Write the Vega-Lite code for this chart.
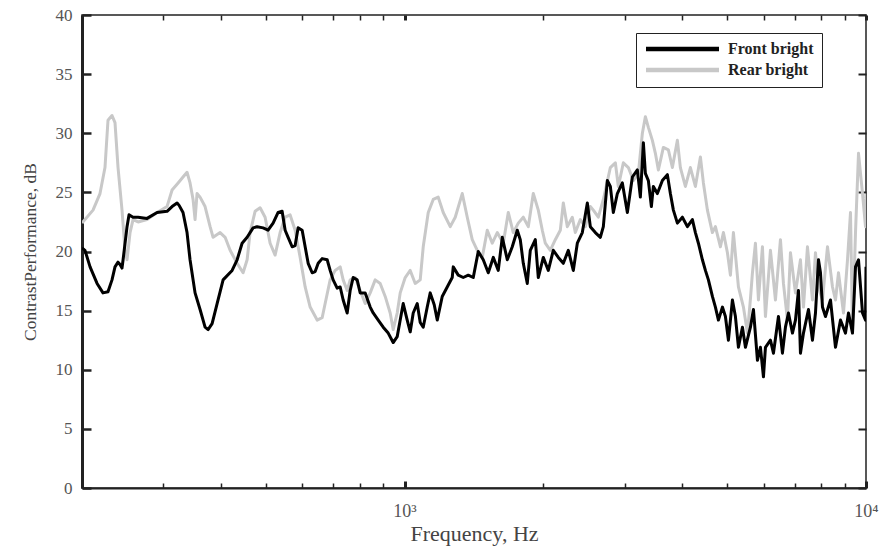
{
  "$schema": "https://vega.github.io/schema/vega-lite/v6.json",
  "width": 784,
  "height": 473,
  "autosize": {"type": "none"},
  "padding": {"left": 82, "top": 15, "right": 26, "bottom": 60},
  "config": {
    "font": "Liberation Serif",
    "view": {"stroke": "#222", "strokeWidth": 1.5}
  },
  "datasets": {
    "rear": [
      {"f": 200, "db": 22.4}, {"f": 211.3, "db": 23.5}, {"f": 218.8, "db": 24.9}, {"f": 224.3, "db": 27.1},
      {"f": 227.7, "db": 31.1}, {"f": 232.3, "db": 31.5}, {"f": 235.8, "db": 30.9}, {"f": 239.4, "db": 27.1},
      {"f": 244.2, "db": 23.5}, {"f": 247.9, "db": 20.1}, {"f": 250.4, "db": 19.3}, {"f": 254.2, "db": 21.6},
      {"f": 258.0, "db": 22.7}, {"f": 264.6, "db": 22.5}, {"f": 276.7, "db": 22.7}, {"f": 290.9, "db": 23.3},
      {"f": 305.7, "db": 23.8}, {"f": 313.5, "db": 25.2}, {"f": 323.1, "db": 25.8}, {"f": 331.1, "db": 26.3},
      {"f": 337.8, "db": 26.7}, {"f": 342.9, "db": 25.8}, {"f": 348.1, "db": 24.4}, {"f": 351.6, "db": 22.7},
      {"f": 355.1, "db": 24.9}, {"f": 360.5, "db": 24.6}, {"f": 369.6, "db": 23.8}, {"f": 379.0, "db": 22.1},
      {"f": 384.7, "db": 21.2}, {"f": 398.4, "db": 21.6}, {"f": 408.5, "db": 21.2}, {"f": 418.8, "db": 20.1},
      {"f": 433.7, "db": 19.0}, {"f": 446.8, "db": 18.2}, {"f": 455.9, "db": 19.3}, {"f": 462.7, "db": 21.6},
      {"f": 474.4, "db": 23.4}, {"f": 486.4, "db": 23.7}, {"f": 498.7, "db": 22.9}, {"f": 511.3, "db": 20.7},
      {"f": 524.2, "db": 19.7}, {"f": 537.5, "db": 21.6}, {"f": 551.1, "db": 22.9}, {"f": 565.0, "db": 23.1},
      {"f": 579.3, "db": 21.8}, {"f": 594.0, "db": 19.5}, {"f": 609.0, "db": 17.0}, {"f": 624.4, "db": 15.3},
      {"f": 646.6, "db": 14.2}, {"f": 662.9, "db": 14.4}, {"f": 672.9, "db": 15.6}, {"f": 689.9, "db": 17.6},
      {"f": 707.3, "db": 18.4}, {"f": 725.3, "db": 18.7}, {"f": 736.2, "db": 17.6}, {"f": 751.1, "db": 16.7},
      {"f": 762.4, "db": 17.6}, {"f": 781.7, "db": 17.8}, {"f": 801.4, "db": 16.7}, {"f": 821.7, "db": 15.6},
      {"f": 842.5, "db": 16.5}, {"f": 863.8, "db": 17.6}, {"f": 885.6, "db": 17.3}, {"f": 908.0, "db": 16.2},
      {"f": 930.9, "db": 14.8}, {"f": 944.9, "db": 13.4}, {"f": 964.0, "db": 14.8}, {"f": 978.6, "db": 16.5},
      {"f": 1003.3, "db": 17.8}, {"f": 1028.7, "db": 18.4}, {"f": 1054.7, "db": 17.3}, {"f": 1081.4, "db": 17.6},
      {"f": 1097.7, "db": 20.4}, {"f": 1125.5, "db": 23.3}, {"f": 1153.9, "db": 24.4}, {"f": 1183.0, "db": 24.6},
      {"f": 1212.9, "db": 23.3}, {"f": 1256.1, "db": 22.1}, {"f": 1287.9, "db": 22.9}, {"f": 1333.7, "db": 24.9},
      {"f": 1367.4, "db": 22.9}, {"f": 1401.9, "db": 21.0}, {"f": 1437.4, "db": 20.1}, {"f": 1473.7, "db": 19.5},
      {"f": 1511.0, "db": 21.8}, {"f": 1549.2, "db": 20.7}, {"f": 1588.4, "db": 21.6}, {"f": 1636.6, "db": 20.7},
      {"f": 1678.0, "db": 23.3}, {"f": 1720.4, "db": 21.6}, {"f": 1763.9, "db": 22.4}, {"f": 1808.5, "db": 22.9},
      {"f": 1854.2, "db": 22.1}, {"f": 1901.1, "db": 24.9}, {"f": 1949.2, "db": 23.5}, {"f": 1988.5, "db": 21.8},
      {"f": 2018.5, "db": 20.7}, {"f": 2069.5, "db": 20.1}, {"f": 2121.8, "db": 21.0}, {"f": 2175.5, "db": 21.8},
      {"f": 2208.4, "db": 24.1}, {"f": 2252.9, "db": 22.1}, {"f": 2309.8, "db": 22.9}, {"f": 2344.6, "db": 21.6},
      {"f": 2403.9, "db": 22.7}, {"f": 2464.7, "db": 22.1}, {"f": 2527.0, "db": 23.8}, {"f": 2565.2, "db": 23.5},
      {"f": 2630.0, "db": 22.9}, {"f": 2696.5, "db": 24.4}, {"f": 2792.4, "db": 27.1}, {"f": 2863.0, "db": 27.5},
      {"f": 2906.2, "db": 25.5}, {"f": 2979.6, "db": 27.5}, {"f": 3055.0, "db": 27.1}, {"f": 3132.2, "db": 26.0},
      {"f": 3211.4, "db": 26.6}, {"f": 3276.2, "db": 30.0}, {"f": 3325.6, "db": 31.4}, {"f": 3375.8, "db": 30.5},
      {"f": 3443.9, "db": 29.4}, {"f": 3495.9, "db": 28.3}, {"f": 3548.7, "db": 26.9}, {"f": 3638.3, "db": 28.8},
      {"f": 3730.3, "db": 28.6}, {"f": 3805.5, "db": 27.1}, {"f": 3901.8, "db": 29.4}, {"f": 3960.6, "db": 27.1},
      {"f": 4060.8, "db": 25.5}, {"f": 4163.4, "db": 27.1}, {"f": 4268.7, "db": 25.5}, {"f": 4376.6, "db": 28.0},
      {"f": 4442.7, "db": 25.8}, {"f": 4532.4, "db": 23.5}, {"f": 4646.8, "db": 21.6}, {"f": 4717.0, "db": 22.1},
      {"f": 4836.2, "db": 20.4}, {"f": 4909.2, "db": 21.6}, {"f": 5008.3, "db": 19.9}, {"f": 5083.8, "db": 18.0},
      {"f": 5160.6, "db": 21.6}, {"f": 5291.1, "db": 17.0}, {"f": 5424.8, "db": 15.3}, {"f": 5534.3, "db": 13.1},
      {"f": 5617.7, "db": 16.0}, {"f": 5674.1, "db": 18.2}, {"f": 5759.8, "db": 20.7}, {"f": 5846.7, "db": 15.9},
      {"f": 5964.6, "db": 20.4}, {"f": 6054.6, "db": 14.5}, {"f": 6207.6, "db": 20.1}, {"f": 6364.6, "db": 15.9},
      {"f": 6525.4, "db": 21.0}, {"f": 6623.9, "db": 17.3}, {"f": 6757.6, "db": 14.2}, {"f": 6859.5, "db": 19.9},
      {"f": 7033.0, "db": 16.5}, {"f": 7210.7, "db": 19.3}, {"f": 7319.6, "db": 15.3}, {"f": 7467.3, "db": 20.4},
      {"f": 7656.0, "db": 15.9}, {"f": 7771.6, "db": 19.9}, {"f": 7888.9, "db": 17.0}, {"f": 8048.0, "db": 15.9},
      {"f": 8251.6, "db": 20.4}, {"f": 8460.0, "db": 17.0}, {"f": 8587.7, "db": 15.9}, {"f": 8717.4, "db": 18.2},
      {"f": 8937.6, "db": 14.8}, {"f": 9118.1, "db": 19.3}, {"f": 9255.5, "db": 23.3}, {"f": 9348.4, "db": 13.4},
      {"f": 9489.6, "db": 21.6}, {"f": 9632.9, "db": 28.3}, {"f": 9827.1, "db": 24.9}, {"f": 9975.5, "db": 22.1},
      {"f": 10000, "db": 24.9}
    ],
    "front": [
      {"f": 200, "db": 20.3}, {"f": 203.0, "db": 20.1}, {"f": 208.2, "db": 18.7}, {"f": 215.6, "db": 17.3},
      {"f": 222.1, "db": 16.5}, {"f": 227.7, "db": 16.6}, {"f": 232.3, "db": 17.6}, {"f": 235.8, "db": 18.7},
      {"f": 239.4, "db": 19.1}, {"f": 241.8, "db": 18.9}, {"f": 244.2, "db": 18.6}, {"f": 245.5, "db": 19.3},
      {"f": 250.4, "db": 22.1}, {"f": 252.9, "db": 23.1}, {"f": 258.0, "db": 22.9}, {"f": 264.6, "db": 22.9},
      {"f": 276.7, "db": 22.8}, {"f": 290.9, "db": 23.3}, {"f": 305.7, "db": 23.4}, {"f": 313.5, "db": 23.8},
      {"f": 321.4, "db": 24.1}, {"f": 324.7, "db": 23.9}, {"f": 331.1, "db": 23.3}, {"f": 337.8, "db": 21.6},
      {"f": 342.9, "db": 19.3}, {"f": 351.6, "db": 16.5}, {"f": 360.5, "db": 15.1}, {"f": 369.6, "db": 13.6},
      {"f": 375.2, "db": 13.4}, {"f": 382.8, "db": 13.9}, {"f": 392.5, "db": 15.6}, {"f": 404.4, "db": 17.6},
      {"f": 423.0, "db": 18.4}, {"f": 433.7, "db": 19.3}, {"f": 444.6, "db": 20.7}, {"f": 455.9, "db": 21.2},
      {"f": 469.7, "db": 22.0}, {"f": 479.2, "db": 22.1}, {"f": 493.7, "db": 22.0}, {"f": 506.2, "db": 21.8},
      {"f": 519.0, "db": 22.4}, {"f": 532.1, "db": 23.3}, {"f": 542.9, "db": 23.4}, {"f": 551.1, "db": 21.8},
      {"f": 559.4, "db": 21.2}, {"f": 570.7, "db": 20.4}, {"f": 579.3, "db": 20.5}, {"f": 588.0, "db": 22.0},
      {"f": 600.0, "db": 21.8}, {"f": 609.0, "db": 20.4}, {"f": 618.2, "db": 19.0}, {"f": 630.7, "db": 18.2},
      {"f": 640.2, "db": 18.3}, {"f": 649.9, "db": 19.0}, {"f": 662.9, "db": 19.4}, {"f": 679.7, "db": 19.3},
      {"f": 689.9, "db": 18.4}, {"f": 700.3, "db": 17.6}, {"f": 714.5, "db": 16.9}, {"f": 725.3, "db": 17.0},
      {"f": 736.2, "db": 15.9}, {"f": 751.1, "db": 14.8}, {"f": 762.4, "db": 16.7}, {"f": 773.9, "db": 17.8},
      {"f": 789.5, "db": 17.6}, {"f": 801.4, "db": 16.5}, {"f": 821.7, "db": 16.5}, {"f": 842.5, "db": 15.3},
      {"f": 855.2, "db": 14.8}, {"f": 876.9, "db": 14.2}, {"f": 899.0, "db": 13.6}, {"f": 921.7, "db": 13.1},
      {"f": 944.9, "db": 12.3}, {"f": 964.0, "db": 12.8}, {"f": 978.6, "db": 14.2}, {"f": 993.4, "db": 15.6},
      {"f": 1013.4, "db": 14.2}, {"f": 1028.7, "db": 13.2}, {"f": 1044.2, "db": 14.8}, {"f": 1065.3, "db": 15.6},
      {"f": 1081.4, "db": 14.0}, {"f": 1097.7, "db": 13.6}, {"f": 1119.9, "db": 15.3}, {"f": 1136.7, "db": 16.5},
      {"f": 1159.6, "db": 15.5}, {"f": 1177.2, "db": 14.2}, {"f": 1206.9, "db": 16.2}, {"f": 1237.4, "db": 17.0},
      {"f": 1268.7, "db": 17.8}, {"f": 1275.1, "db": 18.7}, {"f": 1307.3, "db": 18.0}, {"f": 1340.3, "db": 17.8},
      {"f": 1374.2, "db": 18.0}, {"f": 1409.0, "db": 17.8}, {"f": 1444.6, "db": 20.0}, {"f": 1481.1, "db": 19.3},
      {"f": 1518.6, "db": 18.2}, {"f": 1557.0, "db": 19.5}, {"f": 1596.3, "db": 18.4}, {"f": 1628.5, "db": 21.2},
      {"f": 1669.7, "db": 19.3}, {"f": 1711.8, "db": 20.4}, {"f": 1755.1, "db": 21.8}, {"f": 1781.6, "db": 21.0},
      {"f": 1808.5, "db": 19.0}, {"f": 1845.0, "db": 17.3}, {"f": 1872.8, "db": 20.1}, {"f": 1920.2, "db": 21.0},
      {"f": 1949.2, "db": 17.8}, {"f": 1998.4, "db": 19.5}, {"f": 2049.0, "db": 18.4}, {"f": 2100.8, "db": 20.1},
      {"f": 2153.9, "db": 19.5}, {"f": 2208.4, "db": 19.0}, {"f": 2264.2, "db": 20.1}, {"f": 2321.3, "db": 18.4},
      {"f": 2368.2, "db": 20.7}, {"f": 2428.0, "db": 21.6}, {"f": 2489.5, "db": 24.1}, {"f": 2527.0, "db": 22.1},
      {"f": 2590.9, "db": 21.6}, {"f": 2656.4, "db": 21.2}, {"f": 2696.5, "db": 22.1}, {"f": 2750.9, "db": 26.0},
      {"f": 2792.4, "db": 25.5}, {"f": 2834.6, "db": 23.3}, {"f": 2891.8, "db": 24.9}, {"f": 2964.8, "db": 25.8},
      {"f": 3039.8, "db": 23.3}, {"f": 3116.6, "db": 26.3}, {"f": 3195.4, "db": 26.9}, {"f": 3243.6, "db": 24.6},
      {"f": 3292.6, "db": 29.2}, {"f": 3325.6, "db": 26.6}, {"f": 3375.8, "db": 26.0}, {"f": 3426.8, "db": 23.8},
      {"f": 3461.2, "db": 25.5}, {"f": 3531.1, "db": 24.9}, {"f": 3620.2, "db": 26.0}, {"f": 3711.8, "db": 26.5},
      {"f": 3767.7, "db": 24.9}, {"f": 3824.6, "db": 23.5}, {"f": 3901.8, "db": 22.4}, {"f": 4000.4, "db": 22.9},
      {"f": 4101.6, "db": 22.1}, {"f": 4205.2, "db": 22.7}, {"f": 4268.7, "db": 21.6}, {"f": 4333.1, "db": 20.7},
      {"f": 4420.5, "db": 19.3}, {"f": 4487.3, "db": 18.4}, {"f": 4555.0, "db": 17.6}, {"f": 4646.8, "db": 16.2},
      {"f": 4717.0, "db": 15.3}, {"f": 4788.2, "db": 14.2}, {"f": 4884.8, "db": 15.3}, {"f": 4958.5, "db": 14.5},
      {"f": 5033.4, "db": 12.5}, {"f": 5134.8, "db": 15.9}, {"f": 5212.4, "db": 14.5}, {"f": 5291.1, "db": 11.9},
      {"f": 5397.8, "db": 13.6}, {"f": 5479.3, "db": 11.9}, {"f": 5617.7, "db": 13.6}, {"f": 5702.5, "db": 15.1},
      {"f": 5817.6, "db": 10.8}, {"f": 5905.3, "db": 11.9}, {"f": 5994.5, "db": 9.4}, {"f": 6054.6, "db": 11.9},
      {"f": 6207.6, "db": 12.5}, {"f": 6301.3, "db": 11.4}, {"f": 6460.7, "db": 14.5}, {"f": 6590.9, "db": 11.4},
      {"f": 6690.4, "db": 13.6}, {"f": 6791.4, "db": 14.8}, {"f": 6928.4, "db": 13.1}, {"f": 7033.0, "db": 14.2},
      {"f": 7139.2, "db": 16.7}, {"f": 7210.7, "db": 11.4}, {"f": 7319.6, "db": 13.1}, {"f": 7504.7, "db": 15.1},
      {"f": 7656.0, "db": 12.5}, {"f": 7771.6, "db": 14.8}, {"f": 7888.9, "db": 19.3}, {"f": 7968.0, "db": 18.2},
      {"f": 8048.0, "db": 15.3}, {"f": 8169.5, "db": 14.5}, {"f": 8375.9, "db": 15.9}, {"f": 8587.7, "db": 11.9},
      {"f": 8804.7, "db": 14.2}, {"f": 9027.4, "db": 13.1}, {"f": 9163.7, "db": 14.8}, {"f": 9348.4, "db": 13.1},
      {"f": 9489.6, "db": 18.7}, {"f": 9632.9, "db": 19.3}, {"f": 9827.1, "db": 14.8}, {"f": 9975.5, "db": 14.2},
      {"f": 10000, "db": 18.7}
    ]
  },
  "resolve": {"axis": {"x": "independent", "y": "independent"}},
  "layer": [
    {
      "data": {"name": "rear"},
      "transform": [{"calculate": "'Rear bright'", "as": "series"}],
      "mark": {"type": "line", "strokeWidth": 3, "clip": true, "strokeJoin": "round"},
      "encoding": {
        "x": {
          "field": "f", "type": "quantitative",
          "scale": {"type": "log", "domain": [200, 10000], "nice": false},
          "title": "Frequency, Hz",
          "axis": {
            "values": [300, 400, 500, 600, 700, 800, 900, 1000, 2000, 3000, 4000, 5000, 6000, 7000, 8000, 9000, 10000],
            "labelExpr": "datum.value == 1000 ? '10³' : (datum.value == 10000 ? '10⁴' : '')",
            "grid": false,
            "domainColor": "#222", "domainWidth": 2,
            "tickColor": "#222",
            "tickSize": {"condition": {"test": "datum.value == 1000 || datum.value == 10000", "value": -7}, "value": -5},
            "tickWidth": {"condition": {"test": "datum.value == 1000 || datum.value == 10000", "value": 3}, "value": 1.5},
            "labelFontSize": 18, "labelColor": "#555", "labelPadding": 21, "labelFlush": false,
            "titleFontSize": 22, "titleFontWeight": "normal", "titleColor": "#444", "titlePadding": 3
          }
        },
        "y": {
          "field": "db", "type": "quantitative",
          "scale": {"domain": [0, 40], "nice": false},
          "title": "ContrastPerformance, dB",
          "axis": {
            "values": [0, 5, 10, 15, 20, 25, 30, 35, 40],
            "grid": false,
            "domainColor": "#222", "domainWidth": 3,
            "tickColor": "#222", "tickSize": -9, "tickWidth": 2.5,
            "labelFontSize": 17, "labelColor": "#555", "labelPadding": 19,
            "titleFontSize": 17.5, "titleFontWeight": "normal", "titleColor": "#444", "titlePadding": 16
          }
        },
        "color": {
          "field": "series", "type": "nominal",
          "scale": {"domain": ["Front bright", "Rear bright"], "range": ["#000000", "#c8c8c8"]},
          "legend": {
            "title": null, "orient": "none", "legendX": 554, "legendY": 18,
            "direction": "vertical",
            "symbolType": "M-1.5,0H16.75", "symbolSize": 64, "symbolStrokeWidth": 4.5,
            "labelFontSize": 16, "labelFontWeight": "bold", "labelColor": "#222", "labelFont": "Liberation Serif",
            "labelOffset": 68,
            "strokeColor": "#222", "fillColor": "white", "padding": 8, "rowPadding": 3
          }
        }
      }
    },
    {
      "data": {"name": "front"},
      "transform": [{"calculate": "'Front bright'", "as": "series"}],
      "mark": {"type": "line", "strokeWidth": 3, "clip": true, "strokeJoin": "round"},
      "encoding": {
        "x": {"field": "f", "type": "quantitative", "axis": null},
        "y": {"field": "db", "type": "quantitative", "axis": null},
        "color": {"field": "series", "type": "nominal"}
      }
    },
    {
      "data": {"name": "front"},
      "mark": {"type": "line", "opacity": 0, "clip": true},
      "encoding": {
        "x": {
          "field": "f", "type": "quantitative",
          "axis": {
            "orient": "top", "title": null, "labels": false, "domain": false, "grid": false,
            "values": [300, 400, 500, 600, 700, 800, 900, 1000, 2000, 3000, 4000, 5000, 6000, 7000, 8000, 9000, 10000],
            "tickColor": "#222", "tickSize": -5,
            "tickWidth": {"condition": {"test": "datum.value == 1000 || datum.value == 10000", "value": 3}, "value": 1.5}
          }
        },
        "y": {
          "field": "db", "type": "quantitative",
          "axis": {
            "orient": "right", "title": null, "labels": false, "domain": false, "grid": false,
            "values": [0, 5, 10, 15, 20, 25, 30, 35, 40],
            "tickColor": "#222", "tickSize": -8, "tickWidth": 2
          }
        }
      }
    }
  ]
}
